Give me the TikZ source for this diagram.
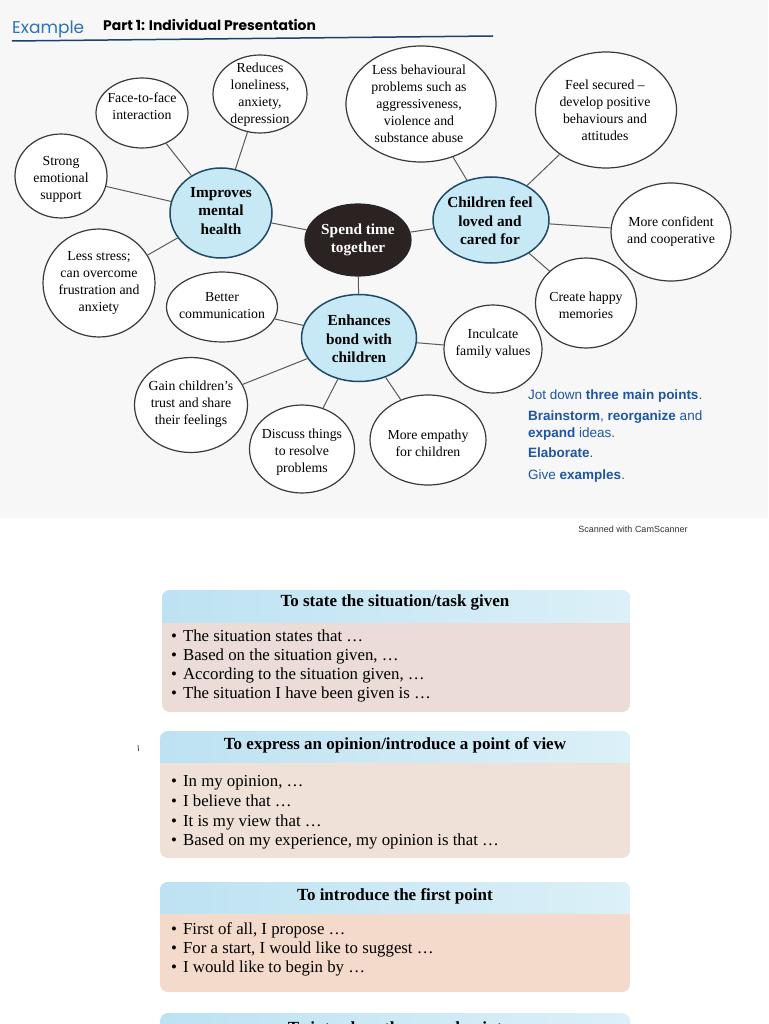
\documentclass[tikz,border=0pt]{standalone}
\usepackage{fontspec}
\setmainfont{Liberation Serif}
\newfontfamily\sansf{Liberation Sans}
\newfontfamily\popf{Poppins}
\usetikzlibrary{shapes.geometric}
\definecolor{photobg}{HTML}{F8F7F7}
\definecolor{linec}{HTML}{3A3A3A}
\definecolor{connc}{HTML}{5A5A5A}
\definecolor{bluefill}{HTML}{C6E9F5}
\definecolor{blueedge}{HTML}{1E4A68}
\definecolor{darkfill}{HTML}{2A2321}
\definecolor{exblue}{HTML}{2B72B8}
\definecolor{rulec}{HTML}{1F3F6E}
\definecolor{noteblue}{HTML}{1D56A5}
\definecolor{hdrA}{HTML}{BDE2F2}
\definecolor{hdrB}{HTML}{DCF0F8}
\definecolor{bodyA}{HTML}{EBDCD7}
\definecolor{bodyB}{HTML}{EFE1D7}
\definecolor{bodyC}{HTML}{F3DACB}
\begin{document}
\begin{tikzpicture}[x=1pt,y=-1pt,
  bub/.style={ellipse, draw=linec, line width=1.2pt, fill=white, inner sep=0pt},
  bbub/.style={ellipse, draw=blueedge, line width=1.5pt, fill=bluefill, inner sep=0pt},
  dbub/.style={ellipse, draw=black!85, line width=1.2pt, fill=darkfill, inner sep=0pt},
  txt/.style={align=center, inner sep=0pt, font=\fontsize{13.8}{17}\selectfont},
  btxt/.style={align=center, inner sep=0pt, font=\fontsize{15.3}{18.5}\selectfont\bfseries},
  conn/.style={draw=connc, line width=1pt},
  note/.style={anchor=base west, inner sep=0pt, text=noteblue, font=\sansf\fontsize{13.5}{16}\selectfont},
  ttl/.style={anchor=base, inner sep=0pt, font=\fontsize{17}{20}\selectfont\bfseries},
  bul/.style={anchor=base west, inner sep=0pt, font=\fontsize{16.8}{19}\selectfont}
]
\useasboundingbox (0,0) rectangle (768,1024);
\fill[white] (0,0) rectangle (768,1024);
\fill[photobg] (0,0) rectangle (768,518);

% header
\node[anchor=base west, inner sep=0pt, text=exblue, font=\popf\fontsize{17}{20}\selectfont] (ex) at (12,34) {Example};
\node[anchor=base west, inner sep=0pt, font=\popf\bfseries\fontsize{13.9}{16}\selectfont] (p1) at (103,31) {Part 1: Individual Presentation};
\coordinate (r1) at (12,41);
\coordinate (r2) at (493,36);
\draw[rulec, line width=1.5pt] (r1) -- (r2);

% ellipses
\node[bub, minimum width=92pt, minimum height=70pt] (ff) at (142,113) {};
\node[bub, minimum width=94pt, minimum height=78pt] (rl) at (260,94) {};
\node[bub, minimum width=150pt, minimum height=116pt] (lb) at (421,104) {};
\node[bub, minimum width=141pt, minimum height=116pt] (fs) at (606,110) {};
\node[bub, minimum width=92pt, minimum height=84pt] (se) at (61,176) {};
\node[bbub, minimum width=102pt, minimum height=90pt] (im) at (221,213) {};
\node[dbub, minimum width=106pt, minimum height=72pt] (st) at (358,240) {};
\node[bbub, minimum width=116pt, minimum height=86pt] (cl) at (491,220) {};
\node[bub, minimum width=120pt, minimum height=98pt] (mc) at (671,232) {};
\node[bub, minimum width=112pt, minimum height=108pt] (ls) at (99,283) {};
\node[bub, minimum width=111pt, minimum height=70pt] (bc) at (222,307) {};
\node[bbub, minimum width=115pt, minimum height=87pt] (eb) at (359,338) {};
\node[bub, minimum width=101pt, minimum height=90pt] (ch) at (586,303) {};
\node[bub, minimum width=98pt, minimum height=88pt] (fv) at (493,349) {};
\node[bub, minimum width=113pt, minimum height=95pt] (gt) at (191,405) {};
\node[bub, minimum width=105pt, minimum height=88pt] (dt) at (302,449) {};
\node[bub, minimum width=116pt, minimum height=90pt] (me) at (428,440) {};

% connectors
\draw[conn] (ff) -- (im);
\draw[conn] (rl) -- (im);
\draw[conn] (se) -- (im);
\draw[conn] (ls) -- (im);
\draw[conn] (im) -- (st);
\draw[conn] (st) -- (cl);
\draw[conn] (cl) -- (lb);
\draw[conn] (cl) -- (fs);
\draw[conn] (cl) -- (mc);
\draw[conn] (cl) -- (ch);
\draw[conn] (st) -- (eb);
\draw[conn] (eb) -- (bc);
\draw[conn] (eb) -- (gt);
\draw[conn] (eb) -- (dt);
\draw[conn] (eb) -- (me);
\draw[conn] (eb) -- (fv);

% ellipse texts
\node[txt] (ff-t) at (142,106) {Face-to-face\\interaction};
\node[txt] (rl-t) at (260,95) {Reduces\\loneliness,\\anxiety,\\depression};
\node[txt] (lb-t) at (419,104) {Less behavioural\\problems such as\\aggressiveness,\\violence and\\substance abuse};
\node[txt] (fs-t) at (605,110) {Feel secured --\\develop positive\\behaviours and\\attitudes};
\node[txt] (se-t) at (61,179) {Strong\\emotional\\support};
\node[btxt] (im-t) at (221,211) {Improves\\mental\\health};
\node[btxt, text=white] (st-t) at (358,240) {Spend time\\together};
\node[btxt] (cl-t) at (490,221) {Children feel\\loved and\\cared for};
\node[txt] (mc-t) at (671,232) {More confident\\and cooperative};
\node[txt] (ls-t) at (99,283) {Less stress;\\can overcome\\frustration and\\anxiety};
\node[txt] (bc-t) at (222,306) {Better\\communication};
\node[btxt] (eb-t) at (359,339) {Enhances\\bond with\\children};
\node[txt] (ch-t) at (586,305) {Create happy\\memories};
\node[txt] (fv-t) at (493,344) {Inculcate\\family values};
\node[txt] (gt-t) at (191,404) {Gain children's\\trust and share\\their feelings};
\node[txt] (dt-t) at (302,452) {Discuss things\\to resolve\\problems};
\node[txt] (me-t) at (428,443) {More empathy\\for children};

% notes
\node[note] (n1) at (528,399) {Jot down \textbf{three main points}.};
\node[note] (n2) at (528,420) {\textbf{Brainstorm}, \textbf{reorganize} and};
\node[note] (n3) at (528,437) {\textbf{expand} ideas.};
\node[note] (n4) at (528,457) {\textbf{Elaborate}.};
\node[note] (n5) at (528,479) {Give \textbf{examples}.};

% scanner stamp
\node[anchor=base, inner sep=0pt, text=black!80, font=\sansf\fontsize{9}{11}\selectfont] (cs) at (633,532) {Scanned with CamScanner};

% stray mark
\draw[black!70, line width=0.8pt] (138,745) -- (138.6,751);

% box 1
\begin{scope}
\clip[rounded corners=8pt] (162,590) rectangle (630,712);
\fill[bodyA] (162,590) rectangle (630,712);
\shade[left color=hdrA, right color=hdrB] (162,590) rectangle (630,622);
\end{scope}
\node[ttl] (t1) at (395,606) {To state the situation/task given};
\node[bul] (b11) at (171,641) {\textbullet\hspace{6pt}The situation states that …};
\node[bul] (b12) at (171,660) {\textbullet\hspace{6pt}Based on the situation given, …};
\node[bul] (b13) at (171,679) {\textbullet\hspace{6pt}According to the situation given, …};
\node[bul] (b14) at (171,698) {\textbullet\hspace{6pt}The situation I have been given is …};

% box 2
\begin{scope}
\clip[rounded corners=8pt] (160,731) rectangle (630,858);
\fill[bodyB] (160,731) rectangle (630,858);
\shade[left color=hdrA, right color=hdrB] (160,731) rectangle (630,762);
\end{scope}
\node[ttl] (t2) at (395,749) {To express an opinion/introduce a point of view};
\node[bul] (b21) at (171,786) {\textbullet\hspace{6pt}In my opinion, …};
\node[bul] (b22) at (171,806) {\textbullet\hspace{6pt}I believe that …};
\node[bul] (b23) at (171,826) {\textbullet\hspace{6pt}It is my view that …};
\node[bul] (b24) at (171,845) {\textbullet\hspace{6pt}Based on my experience, my opinion is that …};

% box 3
\begin{scope}
\clip[rounded corners=8pt] (160,882) rectangle (630,992);
\fill[bodyC] (160,882) rectangle (630,992);
\shade[left color=hdrA, right color=hdrB] (160,882) rectangle (630,913);
\end{scope}
\node[ttl] (t3) at (395,900) {To introduce the first point};
\node[bul] (b31) at (171,934) {\textbullet\hspace{6pt}First of all, I propose …};
\node[bul] (b32) at (171,953) {\textbullet\hspace{6pt}For a start, I would like to suggest …};
\node[bul] (b33) at (171,972) {\textbullet\hspace{6pt}I would like to begin by …};

% box 4 (cut off by the page edge, as in the scan)
\begin{scope}
\clip (0,0) rectangle (768,1024);
\clip[rounded corners=8pt] (160,1013) rectangle (630,1060);
\shade[left color=hdrA, right color=hdrB] (160,1013) rectangle (630,1060);
\node[ttl] (t4) at (395,1033) {To introduce the second point};
\end{scope}
\end{tikzpicture}
\end{document}
